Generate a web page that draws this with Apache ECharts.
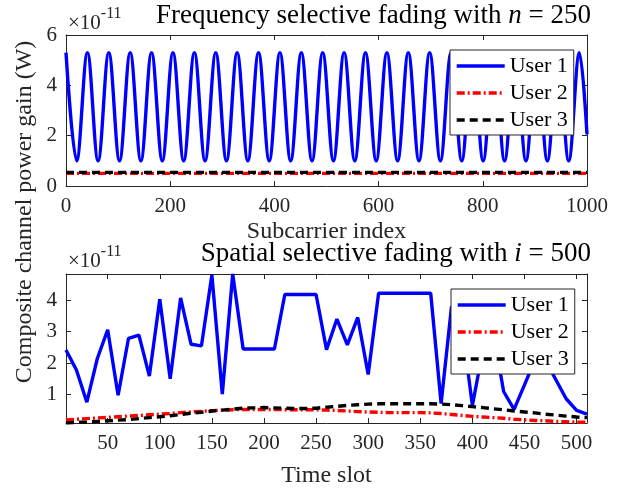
<!DOCTYPE html>
<html><head><meta charset="utf-8">
<script src="https://cdn.jsdelivr.net/npm/echarts@6/dist/echarts.min.js"></script>
<style>html,body{margin:0;padding:0;background:#fff}#c{width:620px;height:489px}</style>
</head><body><div id="c"></div>
<script>
// ---- Top panel: frequency selective fading, n = 250 (values in 1e-11 W) ----
const freqXTicks = [0, 200, 400, 600, 800, 1000];
const freqYTicks = [0, 2, 4, 6];
// User 1: read peak / trough positions and values of the oscillation
const freqIdxUser1 = [0, 20.5, 41.1, 61.6, 82.1, 102.7, 123.2, 143.7, 164.2, 184.8,
  205.3, 225.9, 246.4, 266.9, 287.4, 308.0, 328.5, 349.0, 369.5, 390.1,
  410.6, 431.2, 451.7, 472.2, 492.7, 513.3, 533.8, 554.3, 574.8, 595.4,
  615.9, 636.5, 657.0, 677.5, 698.0, 718.6, 739.1, 759.6, 780.1, 800.7,
  821.2, 841.8, 862.3, 882.8, 903.3, 923.9, 944.4, 964.9, 985.4, 1000];
const freqUser1 = [5.3, 1.0, 5.3, 1.0, 5.3, 1.0, 5.3, 1.0, 5.3, 1.0,
  5.3, 1.0, 5.3, 1.0, 5.3, 1.0, 5.3, 1.0, 5.3, 1.0,
  5.3, 1.0, 5.3, 1.0, 5.3, 1.0, 5.3, 1.0, 5.3, 1.0,
  5.3, 1.0, 5.3, 1.0, 5.3, 1.0, 5.3, 1.0, 5.3, 1.0,
  5.3, 1.0, 5.3, 1.0, 5.3, 1.0, 5.3, 1.0, 5.3, 2.05];
const freqIdxFlat = [0, 1000];
const freqUser2 = [0.50, 0.50];
const freqUser3 = [0.54, 0.54];

// ---- Bottom panel: spatial selective fading, i = 500 ----
const timeXTicks = [50, 100, 150, 200, 250, 300, 350, 400, 450, 500];
const timeYTicks = [1, 2, 3, 4];
const timeSlots = [10, 20, 30, 40, 50, 60, 70, 80, 90, 100,
  110, 120, 130, 140, 150, 160, 170, 180, 190, 200,
  210, 220, 230, 240, 250, 260, 270, 280, 290, 300,
  310, 320, 330, 340, 350, 360, 370, 380, 390, 400,
  410, 420, 430, 440, 450, 460, 470, 480, 490, 500, 510];
const timeUser1 = [2.42, 1.78, 0.76, 2.14, 3.06, 0.98, 2.79, 2.89, 1.59, 4.03,
  1.50, 4.07, 2.60, 2.55, 4.80, 1.02, 4.83, 2.45, 2.45, 2.45,
  2.45, 4.18, 4.18, 4.18, 4.18, 2.43, 3.40, 2.58, 3.45, 1.64,
  4.22, 4.22, 4.22, 4.22, 4.22, 4.22, 0.72, 3.80, 3.20, 0.66,
  2.40, 3.00, 1.10, 0.53, 1.31, 2.10, 2.10, 1.48, 0.87, 0.50, 0.38];
const timeUser2 = [0.20, 0.22, 0.24, 0.26, 0.28, 0.30, 0.32, 0.34, 0.36, 0.38,
  0.40, 0.43, 0.45, 0.47, 0.49, 0.51, 0.52, 0.53, 0.53, 0.53,
  0.53, 0.52, 0.52, 0.52, 0.52, 0.51, 0.50, 0.48, 0.46, 0.45,
  0.44, 0.43, 0.43, 0.43, 0.43, 0.42, 0.40, 0.37, 0.34, 0.31,
  0.29, 0.27, 0.25, 0.22, 0.20, 0.18, 0.17, 0.15, 0.14, 0.13, 0.12];
const timeUser3 = [0.10, 0.12, 0.13, 0.15, 0.17, 0.19, 0.21, 0.24, 0.27, 0.30,
  0.33, 0.37, 0.41, 0.44, 0.48, 0.51, 0.54, 0.57, 0.58, 0.59,
  0.58, 0.57, 0.56, 0.56, 0.57, 0.60, 0.63, 0.66, 0.68, 0.70,
  0.71, 0.71, 0.71, 0.71, 0.71, 0.71, 0.70, 0.68, 0.65, 0.62,
  0.59, 0.55, 0.52, 0.48, 0.45, 0.42, 0.38, 0.35, 0.32, 0.29, 0.27];

const seriesNames = ['User 1', 'User 2', 'User 3'];

const FONT = "'Liberation Serif', 'Times New Roman', serif";
const AX = '#262626';
const zip = (xs, ys) => xs.map((x, i) => [x, ys[i]]);

const styles = [
  { color: '#0000ff', width: 3.4, type: 'solid' },
  { color: '#ff0000', width: 3.4, type: [8, 3, 2, 3] },
  { color: '#000000', width: 3.4, type: [8, 5] }
];

function mkSeries(name, xi, yi, data, st, extra) {
  return Object.assign({
    name: name, type: 'line', xAxisIndex: xi, yAxisIndex: yi, data: data,
    symbol: 'none', showSymbol: false, animation: false,
    lineStyle: { color: st.color, width: st.width, type: st.type },
    itemStyle: { color: st.color }
  }, extra || {});
}

function xAxisBase(grid, pos, min, max, ticks, showLabels, name, nameGap) {
  const a = {
    gridIndex: grid, type: 'value', position: pos, min: min, max: max,
    axisLine: { show: true, onZero: false, lineStyle: { color: AX, width: 1 } },
    axisTick: { show: true, inside: true, length: 5, customValues: ticks, lineStyle: { color: AX, width: 1 } },
    axisLabel: { show: showLabels, customValues: ticks, margin: 10, fontSize: 21, fontFamily: FONT, color: AX,
      formatter: v => String(v) },
    splitLine: { show: false }
  };
  if (name) {
    a.name = name; a.nameLocation = 'middle'; a.nameGap = nameGap;
    a.nameTextStyle = { fontSize: 24, fontFamily: FONT, color: AX };
  }
  return a;
}
function yAxisBase(grid, pos, min, max, ticks, showLabels) {
  return {
    gridIndex: grid, type: 'value', position: pos, min: min, max: max,
    axisLine: { show: true, onZero: false, lineStyle: { color: AX, width: 1 } },
    axisTick: { show: true, inside: true, length: 5, customValues: ticks, lineStyle: { color: AX, width: 1 } },
    axisLabel: { show: showLabels, customValues: ticks, margin: 9, fontSize: 21, fontFamily: FONT, color: AX,
      formatter: v => String(v) },
    splitLine: { show: false }
  };
}

function legendAt(left, top) {
  return {
    left: left, top: top, orient: 'vertical', selectedMode: false,
    data: seriesNames, backgroundColor: '#ffffff', borderColor: AX, borderWidth: 1,
    padding: [5, 6, 4, 5], itemGap: 5, itemWidth: 48, itemHeight: 14,
    itemStyle: { opacity: 0, borderWidth: 0 },
    lineStyle: { width: 3.4 },
    textStyle: { fontSize: 22, fontFamily: FONT, color: '#000', lineHeight: 22 }
  };
}

const titleRich = {
  a: { fontSize: 27, fontFamily: FONT, fontWeight: 'normal', color: '#000' },
  i: { fontSize: 27, fontFamily: FONT, fontWeight: 'normal', fontStyle: 'italic', color: '#000' }
};
const expRich = {
  a: { fontSize: 21, fontFamily: FONT, fontWeight: 'normal', color: AX, lineHeight: 28, verticalAlign: 'bottom' },
  s: { fontSize: 16, fontFamily: FONT, fontWeight: 'normal', color: AX, lineHeight: 28, verticalAlign: 'top' }
};

const chart = echarts.init(document.getElementById('c'), null, { renderer: 'canvas' });
chart.setOption({
  animation: false,
  backgroundColor: '#ffffff',
  title: [
    { text: '{a|Frequency selective fading with }{i|n}{a| = 250}', right: 29, top: 2, padding: 0,
      textStyle: { fontWeight: 'normal', rich: titleRich } },
    { text: '{a|×10}{s|-11}', left: 68, top: 6, padding: 0, textStyle: { fontWeight: 'normal', rich: expRich } },
    { text: '{a|Spatial selective fading with }{i|i}{a| = 500}', right: 29, top: 240, padding: 0,
      textStyle: { fontWeight: 'normal', rich: titleRich } },
    { text: '{a|×10}{s|-11}', left: 68, top: 244, padding: 0, textStyle: { fontWeight: 'normal', rich: expRich } }
  ],
  legend: [legendAt(450, 50), legendAt(451, 289)],
  grid: [
    { left: 66, top: 35, width: 521, height: 151, containLabel: false },
    { left: 66, top: 274, width: 521, height: 152, containLabel: false }
  ],
  xAxis: [
    xAxisBase(0, 'bottom', 0, 1000, freqXTicks, true, 'Subcarrier index', 34),
    xAxisBase(0, 'top', 0, 1000, freqXTicks, false),
    xAxisBase(1, 'bottom', 10, 510, timeXTicks, true, 'Time slot', 41),
    xAxisBase(1, 'top', 10, 510, timeXTicks, false)
  ],
  yAxis: [
    yAxisBase(0, 'left', 0, 6, freqYTicks, true),
    yAxisBase(0, 'right', 0, 6, freqYTicks, false),
    yAxisBase(1, 'left', 0.10, 4.83, timeYTicks, true),
    yAxisBase(1, 'right', 0.10, 4.83, timeYTicks, false)
  ],
  graphic: [{
    type: 'text', x: 25, y: 212, rotation: Math.PI / 2,
    style: { text: 'Composite channel power gain (W)', font: "24px 'Liberation Serif', serif", fill: AX, align: 'center', verticalAlign: 'middle' }
  }],
  series: [
    mkSeries('User 1', 0, 0, zip(freqIdxUser1, freqUser1), styles[0], { smooth: 0.36 }),
    mkSeries('User 2', 0, 0, zip(freqIdxFlat, freqUser2), styles[1]),
    mkSeries('User 3', 0, 0, zip(freqIdxFlat, freqUser3), styles[2]),
    mkSeries('User 1', 2, 2, zip(timeSlots, timeUser1), styles[0]),
    mkSeries('User 2', 2, 2, zip(timeSlots, timeUser2), styles[1]),
    mkSeries('User 3', 2, 2, zip(timeSlots, timeUser3), styles[2])
  ]
});
</script></body></html>
